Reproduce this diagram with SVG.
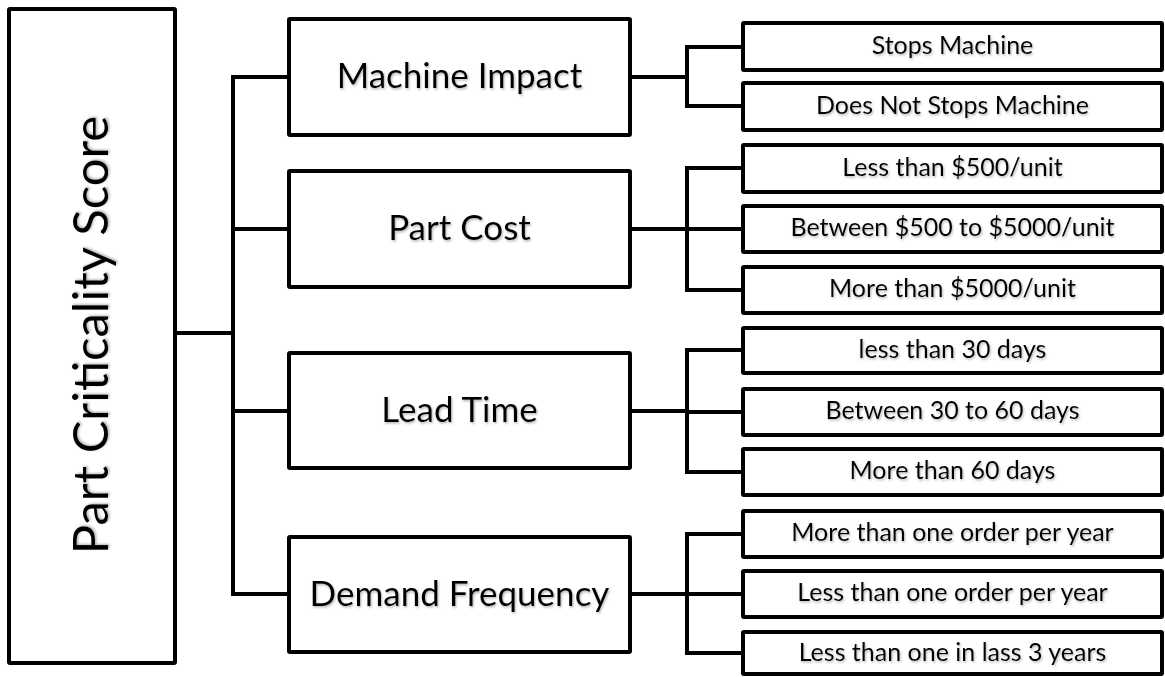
<svg xmlns="http://www.w3.org/2000/svg" width="1165" height="677" viewBox="0 0 1165 677">
<defs>
<filter id="sh" x="-10%" y="-30%" width="120%" height="160%">
<feDropShadow dx="1" dy="1.5" stdDeviation="0.8" flood-color="#777" flood-opacity="0.55"/>
</filter>
<style>
.box{fill:#fff;stroke:#000;stroke-width:4;}
.ln{fill:none;stroke:#000;stroke-width:4;stroke-linecap:square;stroke-linejoin:miter;}
.t{font-family:Lato,"Liberation Sans",sans-serif;fill:#000;text-anchor:middle;filter:url(#sh);}
.big{font-size:49px;}
.mid{font-size:35px;}
.sm{font-size:25px;}
</style>
</defs>
<rect width="1165" height="677" fill="#fff"/>
<g id="connectors">
<path class="ln" d="M175 333H233M233 77V594M233 77H289M233 229H289M233 411H289M233 594H289"/>
<path class="ln" d="M630 77H687M687 47V106M687 47H743M687 106H743"/>
<path class="ln" d="M630 229H687M687 168V290M687 168H743M687 229H743M687 290H743"/>
<path class="ln" d="M630 411H687M687 350V472M687 350H743M687 412H743M687 472H743"/>
<path class="ln" d="M630 594H687M687 534V653M687 534H743M687 594H743M687 653H743"/>
</g>
<g id="root"><rect class="box" x="9" y="9" width="166" height="654" rx="1"/><text class="t big" transform="translate(108,335) rotate(-90)">Part Criticality Score</text></g>
<g id="machine-impact"><rect class="box" x="289" y="19" width="341" height="116" rx="1"/><text class="t mid" x="459.5" y="88">Machine Impact</text></g>
<g id="part-cost"><rect class="box" x="289" y="171" width="341" height="116" rx="1"/><text class="t mid" x="459.5" y="240">Part Cost</text></g>
<g id="lead-time"><rect class="box" x="289" y="353" width="341" height="115" rx="1"/><text class="t mid" x="459.5" y="422">Lead Time</text></g>
<g id="demand-frequency"><rect class="box" x="289" y="537" width="341" height="115" rx="1"/><text class="t mid" x="459.5" y="606">Demand Frequency</text></g>
<g id="stops"><rect class="box" x="743" y="23" width="419" height="47" rx="1"/><text class="t sm" x="952.5" y="54">Stops Machine</text></g>
<g id="not-stops"><rect class="box" x="743" y="83" width="419" height="47" rx="1"/><text class="t sm" x="952.5" y="114">Does Not Stops Machine</text></g>
<g id="cost-low"><rect class="box" x="743" y="145" width="419" height="47" rx="1"/><text class="t sm" x="952.5" y="176">Less than $500/unit</text></g>
<g id="cost-mid"><rect class="box" x="743" y="206" width="419" height="46" rx="1"/><text class="t sm" x="952.5" y="236">Between $500 to $5000/unit</text></g>
<g id="cost-high"><rect class="box" x="743" y="267" width="419" height="46" rx="1"/><text class="t sm" x="952.5" y="297">More than $5000/unit</text></g>
<g id="lt-low"><rect class="box" x="743" y="328" width="419" height="45" rx="1"/><text class="t sm" x="952.5" y="358">less than 30 days</text></g>
<g id="lt-mid"><rect class="box" x="743" y="389" width="419" height="46" rx="1"/><text class="t sm" x="952.5" y="419">Between 30 to 60 days</text></g>
<g id="lt-high"><rect class="box" x="743" y="449" width="419" height="46" rx="1"/><text class="t sm" x="952.5" y="479">More than 60 days</text></g>
<g id="df-high"><rect class="box" x="743" y="511" width="419" height="46" rx="1"/><text class="t sm" x="952.5" y="541">More than one order per year</text></g>
<g id="df-mid"><rect class="box" x="743" y="571" width="419" height="46" rx="1"/><text class="t sm" x="952.5" y="601">Less than one order per year</text></g>
<g id="df-low"><rect class="box" x="743" y="632" width="419" height="42" rx="1"/><text class="t sm" x="952.5" y="661">Less than one in lass 3 years</text></g>
</svg>
